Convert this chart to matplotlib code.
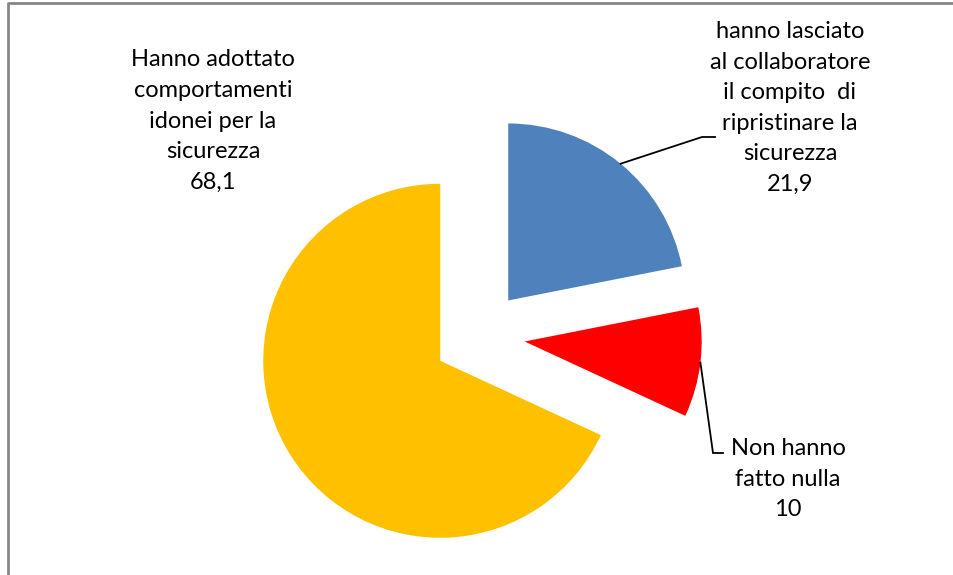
import numpy as np
import matplotlib
matplotlib.use("Agg")
import matplotlib.pyplot as plt

# ----------------------------
# DATA
# ----------------------------
labels = ["hanno lasciato\nal collaboratore\nil compito  di\nripristinare la\nsicurezza",
          "Non hanno\nfatto nulla",
          "Hanno adottato\ncomportamenti\nidonei per la\nsicurezza"]
values = [21.9, 10, 68.1]
value_text = ["21,9", "10", "68,1"]
colors = ["#4F81BD", "#FF0000", "#FFC000"]

# ----------------------------
# FIGURE (pixel-like data coords, y up)
# ----------------------------
W, H = 954, 575
fig = plt.figure(figsize=(W / 100, H / 100), dpi=100)
ax = fig.add_axes([0, 0, 1, 1])

radius = 177
center = (479, H - 336)
explode = [46, 46, 46]   # pie explode is in data units

wedges, _ = ax.pie(values, colors=colors, startangle=90, counterclock=False,
                   explode=explode, radius=radius, center=center,
                   wedgeprops=dict(linewidth=0), frame=True)
ax.set_xlim(0, W)
ax.set_ylim(0, H)
ax.set_aspect("equal")
ax.axis("off")

font = "Lato"
fs = 17

# label positions (text block centres) and leader elbows
label_pos = [(790, H - 108), (788, H - 479), (213, H - 121)]
elbow = [[(702, H - 137), (715, H - 137)],
         [(713, H - 453), (723, H - 453)],
         None]

for w, lab, val, pos, elb in zip(wedges, labels, value_text, label_pos, elbow):
    ax.text(pos[0], pos[1], lab + "\n" + val, ha="center", va="center",
            multialignment="center", fontsize=fs, family=font,
            linespacing=1.56, color="black")
    if elb is not None:
        mid = np.deg2rad((w.theta1 + w.theta2) / 2)
        cx, cy = w.center
        sx = cx + w.r * np.cos(mid)
        sy = cy + w.r * np.sin(mid)
        xs = [sx] + [p[0] for p in elb]
        ys = [sy] + [p[1] for p in elb]
        ax.plot(xs, ys, color="black", lw=1.3, solid_joinstyle="miter")

# chart area border (only left and top visible in the crop)
ax.plot([8, 8, W + 5], [-5, H - 3, H - 3], color="#878787", lw=2,
        clip_on=False)

fig.savefig("out.png", dpi=100)
